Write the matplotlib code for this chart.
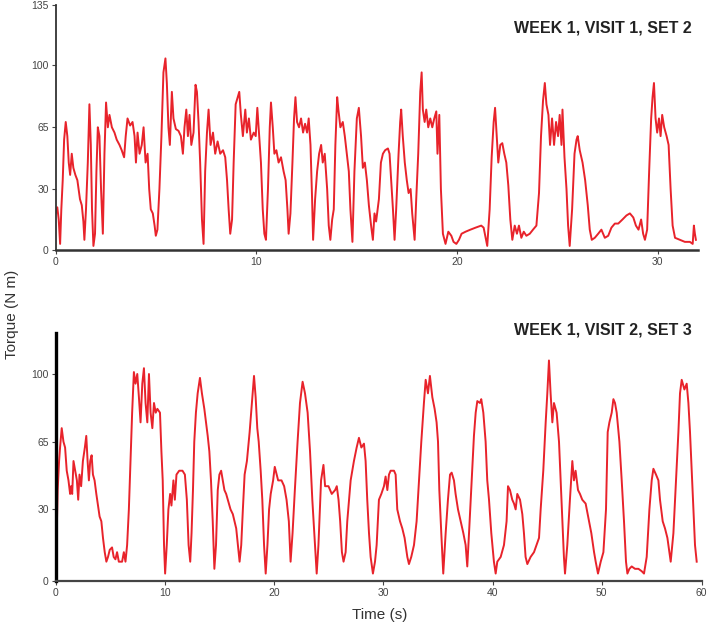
import numpy as np
import matplotlib.pyplot as plt

plt.rcParams['font.family'] = ['Liberation Sans', 'DejaVu Sans']

# Week 1, visit 1, set 2 (time in s, torque in N m)
top_time = [0.00, 0.08, 0.15, 0.22, 0.28, 0.35, 0.42, 0.50, 0.58, 0.65, 0.72, 0.80, 0.88, 0.98,
            1.08, 1.21, 1.30, 1.38, 1.43, 1.51, 1.60, 1.68, 1.75, 1.81, 1.88, 1.96, 2.03, 2.10,
            2.18, 2.26, 2.35, 2.43, 2.51, 2.60, 2.68, 2.80, 2.93, 3.04, 3.18, 3.29, 3.41, 3.49,
            3.58, 3.71, 3.83, 3.93, 4.00, 4.08, 4.18, 4.29, 4.38, 4.48, 4.58, 4.66, 4.74, 4.84,
            4.93, 4.99, 5.07, 5.17, 5.27, 5.37, 5.47, 5.54, 5.62, 5.69, 5.79, 5.87, 5.99, 6.12,
            6.24, 6.34, 6.42, 6.51, 6.59, 6.67, 6.76, 6.87, 6.97, 7.04, 7.12, 7.20, 7.29, 7.37,
            7.45, 7.54, 7.62, 7.72, 7.84, 7.95, 8.07, 8.20, 8.34, 8.45, 8.54, 8.62, 8.70, 8.79,
            8.87, 8.97, 9.07, 9.15, 9.23, 9.33, 9.45, 9.53, 9.63, 9.73, 9.87, 9.97, 10.05, 10.13,
            10.23, 10.32, 10.40, 10.48, 10.58, 10.67, 10.73, 10.82, 10.90, 11.00, 11.11, 11.23,
            11.36, 11.46, 11.55, 11.61, 11.70, 11.80, 11.88, 11.95, 12.03, 12.13, 12.23, 12.33,
            12.43, 12.53, 12.61, 12.70, 12.78, 12.83, 12.93, 13.03, 13.13, 13.23, 13.31, 13.41,
            13.53, 13.61, 13.69, 13.78, 13.86, 13.94, 14.03, 14.09, 14.19, 14.31, 14.41, 14.53,
            14.61, 14.69, 14.79, 14.89, 15.01, 15.11, 15.22, 15.31, 15.41, 15.51, 15.61, 15.72,
            15.81, 15.89, 15.97, 16.11, 16.21, 16.31, 16.42, 16.56, 16.64, 16.72, 16.81, 16.89,
            16.97, 17.09, 17.17, 17.22, 17.30, 17.40, 17.50, 17.59, 17.69, 17.77, 17.89, 17.97,
            18.07, 18.17, 18.24, 18.30, 18.39, 18.47, 18.57, 18.67, 18.77, 18.87, 18.97, 19.03,
            19.12, 19.20, 19.30, 19.43, 19.57, 19.72, 19.83, 19.97, 20.10, 20.23, 20.43, 20.67,
            20.93, 21.21, 21.33, 21.43, 21.51, 21.63, 21.73, 21.83, 21.90, 21.98, 22.06, 22.16,
            22.26, 22.36, 22.46, 22.56, 22.66, 22.76, 22.88, 22.99, 23.09, 23.21, 23.33, 23.46,
            23.63, 23.79, 23.96, 24.09, 24.19, 24.29, 24.38, 24.46, 24.56, 24.64, 24.74, 24.84,
            24.94, 25.04, 25.12, 25.21, 25.26, 25.36, 25.46, 25.54, 25.62, 25.74, 25.86, 25.96,
            26.02, 26.12, 26.26, 26.39, 26.52, 26.62, 26.72, 26.87, 27.04, 27.20, 27.37, 27.54,
            27.70, 27.87, 28.04, 28.25, 28.45, 28.62, 28.79, 28.92, 29.05, 29.18, 29.28, 29.37,
            29.48, 29.58, 29.68, 29.75, 29.82, 29.90, 29.98, 30.07, 30.15, 30.23, 30.33, 30.45,
            30.55, 30.65, 30.75, 30.87, 31.11, 31.36, 31.61, 31.75, 31.81, 31.86, 31.91]
top_torque = [18, 21, 15, 3, 20, 35, 58, 68, 60, 45, 38, 50, 42, 38,
              35, 25, 22, 14, 5, 20, 45, 78, 55, 20, 2, 8, 40, 65,
              60, 30, 8, 50, 79, 65, 72, 65, 62, 58, 55, 52, 48, 60,
              70, 66, 68, 60, 45, 62, 50, 55, 65, 45, 50, 30, 20, 18,
              12, 7, 10, 30, 60, 96, 104, 90, 65, 55, 85, 70, 64, 63,
              60, 50, 65, 75, 60, 72, 55, 62, 89, 85, 68, 45, 15, 3,
              40, 62, 75, 55, 62, 50, 57, 50, 52, 48, 35, 20, 8, 15,
              45, 78, 82, 85, 72, 60, 75, 62, 70, 58, 62, 60, 76, 62,
              45, 20, 8, 5, 30, 65, 79, 65, 50, 52, 45, 48,
              40, 35, 20, 8, 18, 45, 70, 82, 68, 65, 70, 62,
              67, 62, 70, 55, 25, 5, 25, 40, 50, 55, 45, 50,
              30, 12, 5, 15, 20, 55, 82, 75, 65, 68, 60, 48,
              40, 20, 4, 40, 70, 76, 60, 42, 45, 35, 22, 12,
              5, 18, 14, 25, 45, 50, 52, 53, 50, 35, 20, 5,
              20, 50, 68, 75, 60, 45, 35, 28, 30, 18, 5, 25,
              50, 85, 96, 75, 68, 75, 65, 70, 65, 70, 74, 50,
              72, 30, 8, 3, 9, 7, 4, 3, 5, 8, 9, 10,
              11, 12, 11, 6, 2, 20, 48, 68, 76, 60, 45, 55,
              56, 50, 45, 32, 15, 5, 12, 8, 12, 6, 9, 7,
              8, 10, 12, 28, 60, 80, 90, 78, 72, 55, 70, 55,
              68, 60, 72, 55, 75, 48, 30, 12, 2, 20, 50, 58,
              60, 52, 45, 35, 22, 10, 5, 6, 8, 10, 6, 7,
              11, 13, 13, 15, 17, 18, 16, 12, 10, 15, 8, 5,
              10, 40, 70, 82, 90, 70, 62, 70, 60, 72, 65, 60,
              55, 30, 12, 6, 5, 4, 4, 3, 12, 8, 5]

# Week 1, visit 2, set 3
bot_time = [0.00, 0.09, 0.18, 0.31, 0.40, 0.55, 0.71, 0.86, 1.01, 1.17, 1.32, 1.41, 1.51, 1.63,
            1.78, 1.94, 2.06, 2.18, 2.33, 2.49, 2.67, 2.80, 2.92, 3.04, 3.16, 3.29, 3.41, 3.56,
            3.72, 3.87, 4.02, 4.18, 4.33, 4.49, 4.64, 4.79, 4.95, 5.16, 5.31, 5.47, 5.62, 5.78,
            6.08, 6.24, 6.39, 6.54, 6.70, 6.85, 7.00, 7.16, 7.31, 7.47, 7.62, 7.77, 7.93, 8.08,
            8.23, 8.39, 8.54, 8.69, 8.85, 9.00, 9.16, 9.31, 9.55, 9.68, 9.80, 9.92, 10.02, 10.17,
            10.32, 10.48, 10.60, 10.78, 10.91, 11.06, 11.31, 11.61, 11.83, 12.01, 12.17, 12.32,
            12.44, 12.57, 12.69, 12.84, 13.00, 13.21, 13.39, 13.61, 13.76, 13.92, 14.07, 14.22,
            14.38, 14.53, 14.68, 14.84, 14.99, 15.15, 15.30, 15.45, 15.61, 15.76, 16.01, 16.22,
            16.53, 16.68, 16.84, 16.99, 17.14, 17.30, 17.51, 17.76, 17.97, 18.16, 18.31, 18.46,
            18.59, 18.77, 18.92, 19.08, 19.23, 19.39, 19.54, 19.69, 19.91, 20.06, 20.37, 20.68,
            20.92, 21.14, 21.35, 21.51, 21.69, 21.90, 22.15, 22.37, 22.61, 22.83, 23.07, 23.29,
            23.50, 23.75, 23.90, 24.06, 24.30, 24.52, 24.67, 24.98, 25.28, 25.59, 25.74, 25.90,
            26.05, 26.21, 26.36, 26.55, 26.70, 27.01, 27.31, 27.56, 27.77, 27.99, 28.23, 28.38,
            28.53, 28.69, 28.84, 29.05, 29.24, 29.39, 29.60, 29.82, 30.06, 30.21, 30.37, 30.52,
            30.67, 30.98, 31.13, 31.28, 31.53, 31.74, 31.95, 32.20, 32.35, 32.56, 32.81, 33.05,
            33.27, 33.48, 33.72, 33.88, 34.09, 34.27, 34.49, 34.70, 34.88, 35.01, 35.13, 35.31,
            35.49, 35.71, 35.92, 36.11, 36.26, 36.47, 36.62, 36.84, 37.08, 37.33, 37.54, 37.69,
            37.85, 38.09, 38.30, 38.46, 38.61, 38.85, 38.97, 39.16, 39.37, 39.52, 39.68, 39.89,
            40.13, 40.29, 40.44, 40.75, 41.05, 41.29, 41.42, 41.60, 41.81, 41.97, 42.12, 42.27,
            42.52, 42.73, 42.88, 43.03, 43.19, 43.49, 43.80, 44.26, 44.41, 44.65, 44.87, 45.02,
            45.17, 45.32, 45.48, 45.63, 45.87, 46.09, 46.24, 46.39, 46.54, 46.64, 46.85, 47.09,
            47.31, 47.46, 47.61, 47.83, 48.01, 48.22, 48.53, 48.84, 49.05, 49.30, 49.45, 49.66,
            49.91, 50.17, 50.43, 50.60, 50.77, 51.00, 51.17, 51.33, 51.50, 51.77, 52.00, 52.23,
            52.43, 52.57, 52.77, 53.00, 53.33, 53.67, 54.00, 54.23, 54.50, 54.77, 55.00, 55.17,
            55.43, 55.67, 55.83, 56.10, 56.33, 56.57, 56.77, 56.90, 57.17, 57.43, 57.67, 57.83,
            58.00, 58.27, 58.50, 58.67, 58.83, 59.00, 59.17, 59.33, 59.50]
bot_torque = [8, 20, 40, 55, 62, 72, 65, 62, 50, 45, 38, 42, 38, 55,
              50, 45, 35, 48, 42, 55, 62, 68, 55, 45, 55, 58, 48, 45,
              38, 32, 27, 25, 18, 12, 8, 10, 13, 14, 10, 9, 12, 8,
              8, 12, 8, 15, 30, 55, 80, 101, 95, 100, 88, 75, 95, 103,
              85, 75, 100, 80, 72, 85, 80, 82, 80, 60, 45, 15, 3, 15,
              30, 38, 32, 45, 35, 48, 50, 50, 48, 35, 15, 8,
              20, 40, 65, 80, 90, 98, 90, 82, 75, 68, 60, 45,
              25, 5, 15, 40, 48, 50, 45, 40, 38, 35, 30, 28,
              22, 15, 8, 15, 30, 48, 55, 70, 85, 99, 88, 72,
              65, 50, 35, 15, 3, 15, 30, 38, 45, 52, 45, 45,
              42, 35, 25, 8, 20, 40, 65, 85, 96, 90, 80, 60,
              35, 15, 3, 15, 45, 53, 42, 42, 38, 40, 42, 35,
              25, 12, 8, 12, 25, 45, 55, 62, 67, 62, 64, 55,
              35, 20, 10, 3, 8, 15, 35, 38, 42, 47, 40, 48,
              50, 50, 48, 30, 25, 22, 18, 10, 7, 10, 15, 25,
              45, 65, 85, 97, 90, 99, 88, 82, 75, 65, 40, 20,
              3, 20, 35, 48, 49, 45, 38, 30, 25, 20, 15, 6,
              20, 45, 68, 80, 86, 85, 87, 80, 65, 45, 35, 20,
              8, 3, 8, 10, 15, 25, 42, 40, 35, 33, 30, 38,
              35, 28, 20, 10, 7, 10, 12, 18, 30, 50, 75, 90,
              107, 90, 75, 85, 80, 65, 45, 25, 10, 3, 15, 35,
              55, 45, 50, 40, 38, 35, 33, 25, 20, 12, 8, 3,
              8, 12, 30, 70, 75, 80, 87, 85, 80, 65, 45, 25,
              8, 3, 5, 6, 5, 5, 4, 3, 10, 30, 45, 51,
              48, 45, 35, 25, 22, 18, 12, 8, 20, 45, 70, 90,
              97, 92, 95, 85, 70, 50, 30, 15, 8]

top_title = "WEEK 1, VISIT 1, SET 2"
bot_title = "WEEK 1, VISIT 2, SET 3"
top_yticks = [0, 30, 65, 100, 135]
bot_yticks = [0, 30, 65, 100]
top_xticks = [0, 10, 20, 30]
bot_xticks = [0, 10, 20, 30, 40, 50, 60]


def uneven_scale(values, spots):
    # the printed axes are not evenly spaced, so map label values onto their spots
    fwd = lambda v: np.interp(v, values, spots)
    inv = lambda p: np.interp(p, spots, values)
    return fwd, inv


red = '#e8232b'
fig = plt.figure(figsize=(7.08, 6.27), dpi=100)

ax1 = fig.add_axes([55.7 / 708, 377 / 627, 642 / 708, 245 / 627])
ax1.plot(top_time, top_torque, color=red, lw=1.4)
ax1.set_yscale('function', functions=uneven_scale([-60, 0, 30, 65, 100, 135, 270],
                                                   [-122, 0, 61, 122.7, 184.7, 245, 490]))
ax1.set_xlim(0, 32)
ax1.set_ylim(0, 135)
ax1.set_yticks(top_yticks)
ax1.set_xticks(top_xticks)
ax1.spines['left'].set_linewidth(1.3)
ax1.spines['left'].set_color('#333333')
ax1.spines['bottom'].set_linewidth(1.8)
ax1.spines['bottom'].set_color('#333333')

ax2 = fig.add_axes([55.7 / 708, 46.3 / 627, 646 / 708, 247.7 / 627])
ax2.plot(bot_time, bot_torque, color=red, lw=1.4)
ax2.set_xscale('function', functions=uneven_scale([-10, 0, 50, 60, 70],
                                                   [-109.2, 0, 546, 646, 746]))
ax2.set_yscale('function', functions=uneven_scale([-30, 0, 30, 65, 100, 135],
                                                   [-71.3, 0, 71.3, 139, 206.7, 274.4]))
ax2.set_xlim(0, 60)
ax2.set_ylim(0, 121.2)
ax2.set_yticks(bot_yticks)
ax2.set_xticks(bot_xticks)
ax2.spines['left'].set_linewidth(2.4)
ax2.spines['left'].set_color('black')
ax2.spines['bottom'].set_linewidth(1.6)
ax2.spines['bottom'].set_color('#444444')

for ax in (ax1, ax2):
    ax.spines['top'].set_visible(False)
    ax.spines['right'].set_visible(False)
    ax.set_yticklabels([str(v) for v in ax.get_yticks()])
    ax.set_xticklabels([str(v) for v in ax.get_xticks()])
    ax.tick_params(labelsize=7.5, colors='#444444', length=3, width=0.8, pad=2)
    ax.minorticks_off()

fig.text(692 / 708, 1 - 28 / 627, top_title, ha='right', va='center',
         fontsize=11.5, fontweight='bold', color='#222222')
fig.text(692 / 708, 1 - 330 / 627, bot_title, ha='right', va='center',
         fontsize=11.5, fontweight='bold', color='#222222')
fig.text(12 / 708, 1 - 314 / 627, 'Torque (N m)', rotation=90, ha='center', va='center',
         fontsize=11, color='#333333')
fig.text(380 / 708, 1 - 615 / 627, 'Time (s)', ha='center', va='center',
         fontsize=11, color='#333333')

fig.savefig('out.png', dpi=100)
